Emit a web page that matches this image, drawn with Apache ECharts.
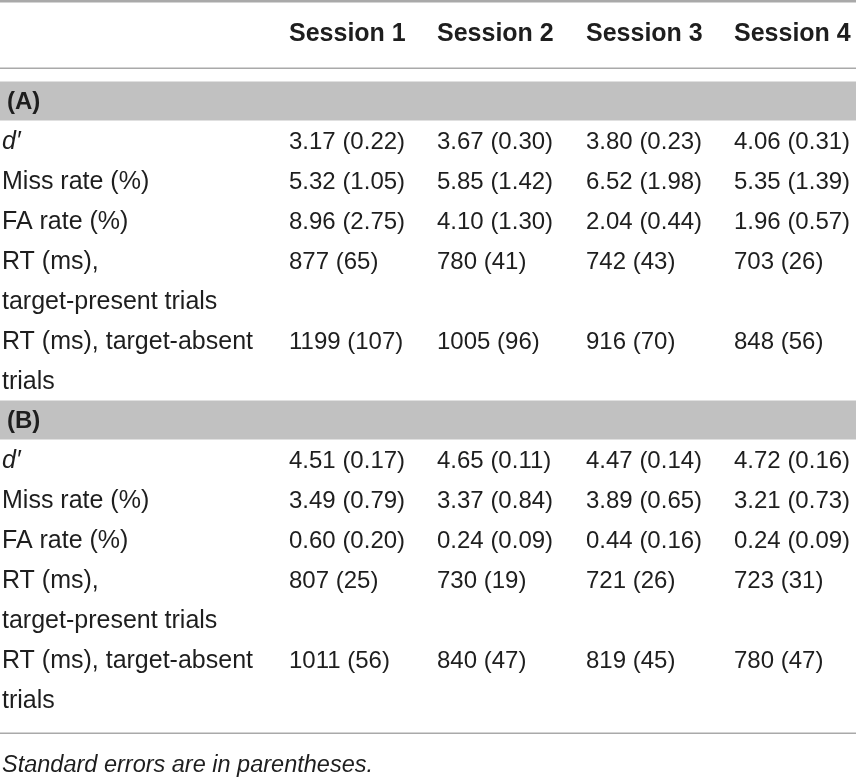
<!DOCTYPE html>
<html>
<head>
<meta charset="utf-8">
<script src="https://cdn.jsdelivr.net/npm/echarts@6/dist/echarts.min.js"></script>
<style>
  html, body { margin: 0; padding: 0; background: #fff; }
  #main { width: 856px; height: 781px; }
</style>
</head>
<body>
<div id="main"></div>
<script>
// table content
const sessions = ["Session 1", "Session 2", "Session 3", "Session 4"];
const panels = ["(A)", "(B)"];
const rowLabels = ["d′", "Miss rate (%)", "FA rate (%)", "RT (ms),\ntarget-present trials", "RT (ms), target-absent\ntrials"];
const rowDecimals = [2, 2, 2, 0, 0];

// panel A: mean and standard error per row, sessions 1-4
const meanA = [
  [3.17, 3.67, 3.80, 4.06],
  [5.32, 5.85, 6.52, 5.35],
  [8.96, 4.10, 2.04, 1.96],
  [877, 780, 742, 703],
  [1199, 1005, 916, 848],
];
const seA = [
  [0.22, 0.30, 0.23, 0.31],
  [1.05, 1.42, 1.98, 1.39],
  [2.75, 1.30, 0.44, 0.57],
  [65, 41, 43, 26],
  [107, 96, 70, 56],
];
// panel B
const meanB = [
  [4.51, 4.65, 4.47, 4.72],
  [3.49, 3.37, 3.89, 3.21],
  [0.60, 0.24, 0.44, 0.24],
  [807, 730, 721, 723],
  [1011, 840, 819, 780],
];
const seB = [
  [0.17, 0.11, 0.14, 0.16],
  [0.79, 0.84, 0.65, 0.73],
  [0.20, 0.09, 0.16, 0.09],
  [25, 19, 26, 31],
  [56, 47, 45, 47],
];
const footnote = "Standard errors are in parentheses.";

// layout
const W = 856, H = 781;
const colX = [2, 289, 437, 586, 734];
const lineH = 40;
const bandH = 39;
const textDy = 2; // glyphs sit a little low in their slot
const FONT = "'Liberation Sans', Arial, Helvetica, sans-serif";
const TXT = "#1e1e1e";

const items = [];
function addText(x, y, text, opt) {
  items.push(Object.assign({ kind: "text", x: x, y: y, text: text }, opt || {}));
}
function addRect(x, y, w, h, fill) {
  items.push({ kind: "rect", x: x, y: y, w: w, h: h, fill: fill });
}

addRect(0, 0, W, 2.5, "#a9a9a9");
sessions.forEach((s, i) => addText(colX[i + 1], 34, s, { bold: true, size: 25 }));
addRect(0, 67.5, W, 1.5, "#a9a9a9");

let y = 81.5;
[[meanA, seA], [meanB, seB]].forEach((p, k) => {
  addRect(0, y, W, bandH, "#c1c1c1");
  addText(7, y + bandH / 2 + 1, panels[k], { bold: true, size: 24 });
  y += bandH;
  rowLabels.forEach((lab, r) => {
    const lines = lab.split("\n");
    lines.forEach((ln, j) => {
      addText(colX[0], y + lineH / 2 + textDy + j * lineH, ln, { italic: r === 0, size: 25 });
    });
    p[0][r].forEach((v, c) => {
      const d = rowDecimals[r];
      addText(colX[c + 1], y + lineH / 2 + textDy, v.toFixed(d) + " (" + p[1][r][c].toFixed(d) + ")");
    });
    y += lines.length * lineH;
  });
});

addRect(0, 732.5, W, 1.5, "#a9a9a9");
addText(2, 765, footnote, { italic: true, size: 23.5 });

const chart = echarts.init(document.getElementById("main"));
chart.setOption({
  animation: false,
  grid: { left: 0, right: 0, top: 0, bottom: 0 },
  xAxis: { type: "value", min: 0, max: W, show: false },
  yAxis: { type: "value", min: 0, max: H, inverse: true, show: false },
  series: [
    {
      type: "custom",
      coordinateSystem: "cartesian2d",
      data: items.map((it, i) => [it.x, it.y, i]),
      renderItem: (params, api) => {
        const it = items[api.value(2)];
        const p = api.coord([api.value(0), api.value(1)]);
        if (it.kind === "rect") {
          const q = api.coord([it.x + it.w, it.y + it.h]);
          return {
            type: "rect",
            shape: { x: p[0], y: p[1], width: q[0] - p[0], height: q[1] - p[1] },
            style: { fill: it.fill },
          };
        }
        return {
          type: "text",
          x: p[0],
          y: p[1],
          style: {
            text: it.text,
            fill: TXT,
            font: (it.italic ? "italic " : "") + (it.bold ? "bold " : "") + (it.size || 24) + "px " + FONT,
            align: "left",
            verticalAlign: "middle",
          },
        };
      },
    },
  ],
});
</script>
</body>
</html>
